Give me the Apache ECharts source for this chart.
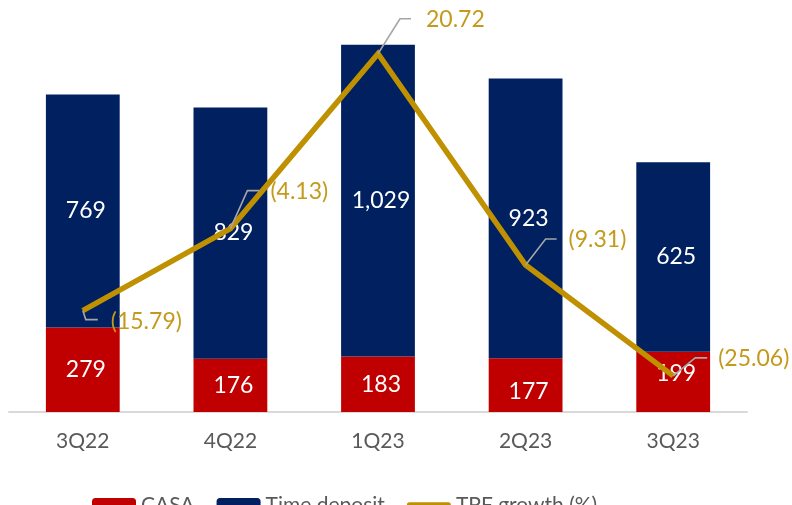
<!DOCTYPE html>
<html>
<head>
<meta charset="utf-8">
<script src="https://cdn.jsdelivr.net/npm/echarts@6/dist/echarts.min.js"></script>
<style>
  html, body { margin: 0; padding: 0; background: #ffffff; }
  #chart { width: 792px; height: 505px; }
</style>
</head>
<body>
<div id="chart"></div>
<script>
// Quarterly third-party funds: CASA + time deposit (bars), TPF growth % (line)
const categories = ['3Q22', '4Q22', '1Q23', '2Q23', '3Q23'];
const casa = [279, 176, 183, 177, 199];
const timeDeposit = [769, 829, 1029, 923, 625];
const tpfGrowth = [-15.79, -4.13, 20.72, -9.31, -25.06];

// Small vertical nudges for the CASA value labels (px)
const casaLabelNudge = [0, 0, 0, 6, -8];

// Callout geometry for the growth labels, relative to each point (px):
// bend = elbow of the leader, end = end of leader, text = label anchor (left, middle)
const tpfCallouts = [
  { bend: [3, 9],    end: [15, 9],    text: [28, 11] },
  { bend: [17, -38], end: [29, -38],  text: [40, -37] },
  { bend: [22, -35], end: [33, -35],  text: [48, -34] },
  { bend: [20, -26], end: [31, -26],  text: [43, -25] },
  { bend: [22, -18], end: [34, -18],  text: [45, -17] }
];

const RED = '#C00000';
const NAVY = '#002060';
const GOLD = '#BF9000';
const GOLD_TEXT = '#C49A1C';
const GREY_TEXT = '#595959';
const FONT = 'Lato, "Open Sans", sans-serif';

// Thick rounded stroke used as the legend swatch of the growth line
const LINE_SWATCH = 'path://M3,0 H47 A3,3 0 0 1 47,6 H3 A3,3 0 0 1 3,0 Z';

const fmtGrowth = v => v < 0 ? '(' + Math.abs(v).toFixed(2) + ')' : v.toFixed(2);
const fmtThousands = v => Number(v).toLocaleString('en-US');

const chart = echarts.init(document.getElementById('chart'), null, { renderer: 'canvas' });

const barLabel = {
  show: true,
  position: 'inside',
  color: '#ffffff',
  fontFamily: FONT,
  fontSize: 23,
  offset: [3, 0],
  formatter: p => fmtThousands(p.value)
};

chart.setOption({
  animation: false,
  backgroundColor: '#ffffff',
  grid: { left: 9, right: 45, top: 18, height: 394, containLabel: false },
  legend: {
    data: [
      { name: 'CASA' },
      { name: 'Time deposit' },
      { name: 'TPF growth (%)', icon: LINE_SWATCH }
    ],
    left: 92,
    top: 493,
    padding: 0,
    itemWidth: 44,
    itemHeight: 14,
    itemGap: 22,
    symbolKeepAspect: true,
    textStyle: { color: GREY_TEXT, fontFamily: FONT, fontSize: 21, lineHeight: 24 }
  },
  xAxis: {
    type: 'category',
    data: categories,
    axisLine: { show: true, lineStyle: { color: '#D9D9D9', width: 2 } },
    axisTick: { show: false },
    axisLabel: { color: GREY_TEXT, fontFamily: FONT, fontSize: 21, margin: 19 }
  },
  yAxis: [
    { type: 'value', min: 0, max: 1300, show: false, splitLine: { show: false } },
    { type: 'value', min: -30.2, max: 25.8, show: false, splitLine: { show: false } }
  ],
  series: [
    {
      name: 'CASA',
      type: 'bar',
      stack: 'tpf',
      barWidth: '50%',
      itemStyle: { color: RED },
      label: barLabel,
      data: casa.map((v, i) => ({ value: v, label: { offset: [3, casaLabelNudge[i]] } }))
    },
    {
      name: 'Time deposit',
      type: 'bar',
      stack: 'tpf',
      barWidth: '50%',
      itemStyle: { color: NAVY },
      label: barLabel,
      data: timeDeposit
    },
    {
      name: 'TPF growth (%)',
      type: 'line',
      yAxisIndex: 1,
      symbol: 'none',
      z: 3,
      lineStyle: { color: GOLD, width: 5.5, join: 'miter' },
      itemStyle: { color: GOLD },
      data: tpfGrowth
    },
    {
      name: 'TPF callouts',
      type: 'custom',
      yAxisIndex: 1,
      z: 4,
      silent: true,
      data: tpfGrowth.map((v, i) => [i, v]),
      renderItem: (params, api) => {
        const p = api.coord([api.value(0), api.value(1)]);
        const c = tpfCallouts[params.dataIndex];
        return {
          type: 'group',
          children: [
            {
              type: 'polyline',
              shape: {
                points: [
                  p,
                  [p[0] + c.bend[0], p[1] + c.bend[1]],
                  [p[0] + c.end[0], p[1] + c.end[1]]
                ]
              },
              style: { stroke: '#A6A6A6', lineWidth: 1.6, fill: null }
            },
            {
              type: 'text',
              x: p[0] + c.text[0],
              y: p[1] + c.text[1],
              style: {
                text: fmtGrowth(api.value(1)),
                fill: GOLD_TEXT,
                fontFamily: FONT,
                fontSize: 23,
                align: 'left',
                verticalAlign: 'middle'
              }
            }
          ]
        };
      }
    }
  ]
});
</script>
</body>
</html>
